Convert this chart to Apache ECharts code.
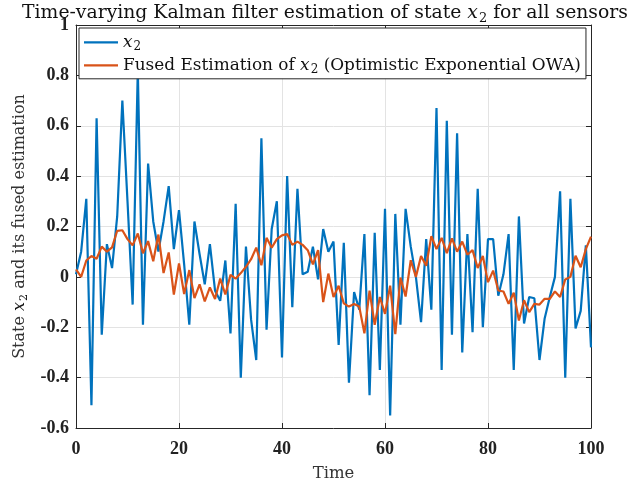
<!DOCTYPE html>
<html>
<head>
<meta charset="utf-8">
<script src="https://cdn.jsdelivr.net/npm/echarts@6/dist/echarts.min.js"></script>
<style>html,body{margin:0;padding:0;background:#fff;}#c{width:628px;height:487px;}</style>
</head>
<body>
<div id="c"></div>
<script>
// Data
const time = Array.from({length: 101}, (_, i) => i);
const x2 = [
  0.01, 0.10, 0.31, -0.51, 0.63, -0.23, 0.13, 0.035, 0.24, 0.70,
  0.30, -0.11, 0.82, -0.19, 0.45, 0.22, 0.10, 0.22, 0.36, 0.11,
  0.265, 0.05, -0.19, 0.22, 0.09, -0.03, 0.13, -0.055, -0.095, 0.065,
  -0.225, 0.29, -0.40, 0.12, -0.17, -0.33, 0.55, -0.21, 0.19, 0.30,
  -0.32, 0.40, -0.12, 0.35, 0.01, 0.02, 0.12, -0.01, 0.19, 0.10,
  0.14, -0.27, 0.135, -0.42, -0.06, -0.13, 0.17, -0.47, 0.175, -0.37,
  0.27, -0.55, 0.25, -0.19, 0.27, 0.12, 0.0, -0.18, 0.15, -0.13,
  0.67, -0.37, 0.62, -0.23, 0.57, -0.30, 0.17, -0.22, 0.35, -0.20,
  0.15, 0.15, -0.075, 0.01, 0.17, -0.37, 0.24, -0.185, -0.08, -0.085,
  -0.33, -0.165, -0.08, 0.0, 0.34, -0.40, 0.31, -0.205, -0.135, 0.125,
  -0.28
];
const fused = [
  0.03, 0.0, 0.065, 0.083, 0.072, 0.12, 0.10, 0.117, 0.183, 0.185,
  0.15, 0.125, 0.172, 0.094, 0.142, 0.062, 0.168, 0.015, 0.097, -0.07,
  0.053, -0.068, 0.027, -0.084, -0.03, -0.097, -0.042, -0.088, -0.007, -0.07,
  0.008, -0.007, 0.015, 0.04, 0.07, 0.116, 0.046, 0.155, 0.116, 0.15,
  0.165, 0.17, 0.127, 0.14, 0.127, 0.106, 0.05, 0.106, -0.10, 0.013,
  -0.08, -0.035, -0.105, -0.118, -0.108, -0.118, -0.224, -0.055, -0.19, -0.08,
  -0.147, -0.035, -0.227, -0.003, -0.078, 0.066, 0.0, 0.083, 0.044, 0.162,
  0.11, 0.155, 0.094, 0.153, 0.10, 0.14, 0.088, 0.106, 0.035, 0.083,
  -0.021, 0.025, -0.054, -0.058, -0.107, -0.063, -0.173, -0.093, -0.14, -0.107,
  -0.11, -0.087, -0.087, -0.058, -0.08, -0.01, 0.0, 0.084, 0.038, 0.11,
  0.16
];
const seriesNames = ['x2', 'fused'];
const legendLabels = ['{i|x}{s|2}', 'Fused Estimation of {i|x}{s|2} (Optimistic Exponential OWA)'];
const titleText = 'Time-varying Kalman filter estimation of state {i|x}{s|2} for all sensors';
const yName = 'State {i|x}{s|2} and its fused estimation';
const xName = 'Time';

const serif = '"DejaVu Serif", "Liberation Serif", serif';
const tickFont = '"Liberation Serif", serif';
const richMain = (fs) => ({
  i: {fontFamily: serif, fontStyle: 'italic', fontSize: fs, color: '#111', verticalAlign: 'middle', lineHeight: fs + 4},
  s: {fontFamily: serif, fontSize: Math.round(fs * 0.7), color: '#111', verticalAlign: 'bottom', lineHeight: fs + 4, padding: [0, 0, 0, 1]}
});

const chart = echarts.init(document.getElementById('c'), null, {renderer: 'canvas'});
const axisCommon = {
  type: 'value',
  axisLine: {show: true, onZero: false, lineStyle: {color: '#262626', width: 1}},
  axisTick: {show: true, inside: true, length: 5, lineStyle: {color: '#262626'}},
};
const fmt = v => { const r = Math.round(v * 10) / 10; return (r === 0 ? 0 : r).toString(); };

chart.setOption({
  animation: false,
  backgroundColor: '#fff',
  title: {
    text: titleText,
    left: 320, textAlign: 'center', top: -3,
    textStyle: {fontFamily: serif, fontWeight: 'normal', fontSize: 18.8, color: '#111', lineHeight: 22, rich: richMain(18.8)}
  },
  grid: {left: 76, right: 37, top: 25, bottom: 57, containLabel: false},
  legend: {
    orient: 'vertical', left: 79, top: 28,
    data: seriesNames,
    formatter: n => legendLabels[seriesNames.indexOf(n)],
    icon: 'rect', itemWidth: 34, itemHeight: 2.2, itemGap: 2,
    backgroundColor: '#fff', borderColor: '#262626', borderWidth: 1, borderRadius: 0,
    padding: [4, 5, 3, 5],
    textStyle: {fontFamily: serif, fontSize: 16.9, color: '#111', lineHeight: 20, rich: richMain(16.9)}
  },
  xAxis: [
    Object.assign({}, axisCommon, {
      position: 'bottom', min: 0, max: 100, interval: 20,
      name: xName, nameLocation: 'middle', nameGap: 37,
      nameTextStyle: {fontFamily: serif, fontSize: 16.5, color: '#333'},
      axisLabel: {fontFamily: tickFont, fontWeight: 'bold', fontSize: 18, color: '#222', margin: 12},
      splitLine: {show: true, lineStyle: {color: '#e3e3e3', width: 1}}
    }),
    Object.assign({}, axisCommon, {
      position: 'top', min: 0, max: 100, interval: 20,
      axisLabel: {show: false}, splitLine: {show: false}
    })
  ],
  yAxis: [
    Object.assign({}, axisCommon, {
      position: 'left', min: -0.6, max: 1, interval: 0.2,
      name: yName, nameLocation: 'middle', nameGap: 44, nameRotate: 90,
      nameTextStyle: {fontFamily: serif, fontSize: 16, color: '#333', lineHeight: 20, rich: richMain(16)},
      axisLabel: {fontFamily: tickFont, fontWeight: 'bold', fontSize: 18, color: '#222', margin: 7, formatter: fmt},
      splitLine: {show: true, lineStyle: {color: '#e3e3e3', width: 1}}
    }),
    Object.assign({}, axisCommon, {
      position: 'right', min: -0.6, max: 1, interval: 0.2,
      axisLabel: {show: false}, splitLine: {show: false}
    })
  ],
  series: [
    {
      name: seriesNames[0], type: 'line', showSymbol: false, symbol: 'none',
      data: time.map((t, i) => [t, x2[i]]),
      lineStyle: {color: '#0072BD', width: 2.2}, itemStyle: {color: '#0072BD'}, z: 2
    },
    {
      name: seriesNames[1], type: 'line', showSymbol: false, symbol: 'none',
      data: time.map((t, i) => [t, fused[i]]),
      lineStyle: {color: '#D95319', width: 2.2}, itemStyle: {color: '#D95319'}, z: 3
    }
  ]
});
</script>
</body>
</html>
